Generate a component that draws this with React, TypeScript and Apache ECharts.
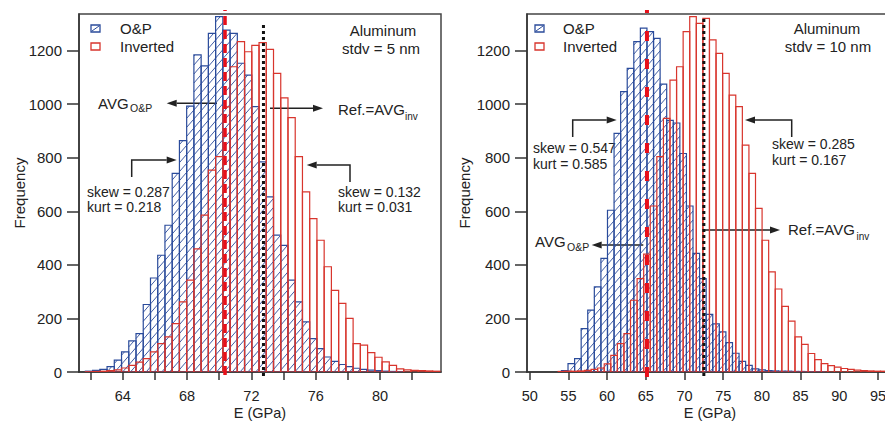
import React, { useEffect, useRef } from "react";
import * as echarts from "echarts";

const FONT = '"Liberation Sans", Arial, Helvetica, sans-serif';
const BLUE = "#2a4b9b";
const RED = "#d8352d";
const INK = "#222222";

// ---------- Panel (a): Aluminum, stdv = 5 nm ----------
const leftFirstBinCenter = 61.9; // GPa
const leftBinWidth = 0.45; // GPa
const leftOP = [
  3, 6, 10, 20, 44, 75, 116, 143, 252, 351, 436, 548, 742, 864, 993, 1184, 1143, 1265, 1327, 1277,
  1265, 1153, 1109, 991, 785, 654, 511, 473, 343, 262, 187, 125, 87, 56, 40, 28, 20, 14, 10, 7,
  5, 3, 2, 1,
];
const leftInverted = [
  1, 2, 3, 5, 8, 15, 25, 37, 50, 75, 106, 131, 181, 262, 343, 460, 586, 754, 804, 990,
  1140, 1234, 1196, 1220, 1230, 1205, 1115, 1024, 950, 804, 673, 573, 492, 393, 305, 256, 200, 106, 100, 72,
  55, 38, 25, 12, 8, 6, 5, 4, 3,
];
const leftAvgOP = 70.36;
const leftRefAvgInv = 72.75;
const leftXTicks = [62, 64, 66, 68, 70, 72, 74, 76, 78, 80, 82];
const leftXLabels = [64, 68, 72, 76, 80];
const leftSkewOP = "skew = 0.287";
const leftKurtOP = "kurt = 0.218";
const leftSkewInv = "skew = 0.132";
const leftKurtInv = "kurt = 0.031";

// ---------- Panel (b): Aluminum, stdv = 10 nm ----------
const rightBinWidth = 0.85; // GPa
const rightOPFirstCenter = 54.525;
const rightOP = [
  5, 31, 50, 162, 231, 318, 424, 604, 891, 1047, 1134, 1234, 1284, 1271, 1246, 1075, 940, 930, 816, 620,
  443, 349, 215, 180, 150, 110, 70, 40, 25, 12, 8, 5, 4, 3, 3, 2, 2, 1, 1, 1,
];
const rightInvFirstCenter = 54.1;
const rightInverted = [
  2, 3, 3, 4, 6, 10, 15, 30, 62, 106, 143, 268, 349, 440, 620, 804, 947, 1090, 1140, 1271,
  1327, 1302, 1321, 1240, 1190, 1115, 1034, 991, 847, 742, 611, 492, 374, 310, 245, 190, 131, 103, 69, 46,
  31, 24, 18, 13, 10, 7, 5, 4, 3, 3, 2,
];
const rightAvgOP = 65.15;
const rightRefAvgInv = 72.5;
const rightXTicks = [50, 55, 60, 65, 70, 75, 80, 85, 90, 95];
const rightSkewOP = "skew = 0.547";
const rightKurtOP = "kurt = 0.585";
const rightSkewInv = "skew = 0.285";
const rightKurtInv = "kurt = 0.167";

const yTicks = [0, 200, 400, 600, 800, 1000, 1200];

const toData = (first: number, w: number, vals: number[]) =>
  vals.map((v, i) => [Math.round((first + i * w) * 1000) / 1000, v]);

function histRenderer(binWidth: number, color: string, hatched: boolean) {
  return (params: any, api: any) => {
    const c = api.value(0) as number;
    const v = api.value(1) as number;
    const pBL = api.coord([c - binWidth / 2, 0]);
    const pTR = api.coord([c + binWidth / 2, v]);
    const x0 = pBL[0];
    const x1 = pTR[0];
    const yb = pBL[1];
    const yt = pTR[1];
    const children: any[] = [];
    if (hatched && yb - yt > 2) {
      const s = 1.15;
      const sp = 9;
      const kMin = Math.ceil((yt + s * x0) / sp);
      const kMax = Math.floor((yb + s * x1) / sp);
      for (let k = kMin; k <= kMax; k++) {
        const C = k * sp;
        let xa = x0;
        let ya = C - s * x0;
        let xb = x1;
        let yb2 = C - s * x1;
        if (ya > yb) {
          ya = yb;
          xa = (C - yb) / s;
        }
        if (yb2 < yt) {
          yb2 = yt;
          xb = (C - yt) / s;
        }
        if (xb - xa < 0.3) continue;
        children.push({
          type: "line",
          shape: { x1: xa, y1: ya, x2: xb, y2: yb2 },
          style: { stroke: color, lineWidth: 0.9 },
        });
      }
    }
    children.push({
      type: "rect",
      shape: { x: x0, y: yt, width: x1 - x0, height: yb - yt },
      style: { fill: "none", stroke: color, lineWidth: 1.2 },
    });
    return { type: "group", children };
  };
}

function vLineRenderer(color: string, width: number, dash: number[], topPad: number, botPad: number) {
  return (params: any, api: any) => {
    const x = api.coord([api.value(0), 0])[0];
    const cs = params.coordSys;
    return {
      type: "line",
      shape: { x1: x, y1: cs.y + cs.height + botPad, x2: x, y2: cs.y + topPad },
      style: { stroke: color, lineWidth: width, lineDash: dash },
    };
  };
}

const txt = (x: number, y: number, text: string, size = 15, align = "left") => ({
  type: "text",
  x,
  y,
  silent: true,
  style: {
    text,
    fontSize: size,
    fontFamily: FONT,
    fill: INK,
    textAlign: align,
    align,
    textVerticalAlign: "middle",
    verticalAlign: "middle",
  },
});

function hArrow(xFrom: number, y: number, xTip: number) {
  const dir = Math.sign(xTip - xFrom);
  const base = xTip - dir * 10;
  return [
    { type: "line", silent: true, shape: { x1: xFrom, y1: y, x2: base, y2: y }, style: { stroke: INK, lineWidth: 1.5 } },
    {
      type: "polygon",
      silent: true,
      shape: { points: [[xTip, y], [base, y - 3.5], [base, y + 3.5]] },
      style: { fill: INK },
    },
  ];
}

function bracketArrow(xv: number, yBottom: number, yTop: number, xTip: number) {
  const dir = Math.sign(xTip - xv);
  const base = xTip - dir * 10;
  return [
    {
      type: "polyline",
      silent: true,
      shape: { points: [[xv, yBottom], [xv, yTop], [base, yTop]] },
      style: { stroke: INK, lineWidth: 1.5, fill: "none" },
    },
    {
      type: "polygon",
      silent: true,
      shape: { points: [[xTip, yTop], [base, yTop - 3.5], [base, yTop + 3.5]] },
      style: { fill: INK },
    },
  ];
}

function legend(xIcon: number, xText: number) {
  return [
    { type: "rect", silent: true, shape: { x: xIcon, y: 25, width: 9, height: 7 }, style: { fill: "none", stroke: BLUE, lineWidth: 1.3 } },
    { type: "line", silent: true, shape: { x1: xIcon + 1, y1: 31, x2: xIcon + 8, y2: 26 }, style: { stroke: BLUE, lineWidth: 1 } },
    txt(xText, 28, "O&P", 15),
    { type: "rect", silent: true, shape: { x: xIcon, y: 43, width: 9, height: 7 }, style: { fill: "none", stroke: RED, lineWidth: 1.3 } },
    txt(xText, 46, "Inverted", 15),
  ];
}

const plainNumber = (v: number) => String(v);

function valueXAxis(gridIndex: number, min: number, max: number, ticks: number[], labels: number[]) {
  return {
    type: "value",
    gridIndex,
    min,
    max,
    name: "E (GPa)",
    nameLocation: "middle",
    nameGap: 33,
    nameMoveOverlap: false,
    nameTextStyle: { fontSize: 14.5, color: INK, fontFamily: FONT },
    axisLine: { show: true, onZero: false, lineStyle: { color: "#333", width: 1.5 } },
    axisTick: { show: true, inside: false, length: 8, customValues: ticks, lineStyle: { color: "#333", width: 1.5 } },
    axisLabel: { customValues: labels, margin: 16, fontSize: 14.5, color: INK, fontFamily: FONT, formatter: plainNumber },
    splitLine: { show: false },
  };
}

function valueYAxis(gridIndex: number, nameGap: number) {
  return {
    type: "value",
    gridIndex,
    min: 0,
    max: 1337,
    name: "Frequency",
    nameLocation: "middle",
    nameRotate: 90,
    nameGap,
    nameMoveOverlap: false,
    nameTextStyle: { fontSize: 15, color: INK, fontFamily: FONT },
    axisLine: { show: true, onZero: false, lineStyle: { color: "#333", width: 1.5 } },
    axisTick: { show: true, inside: false, length: 12, customValues: yTicks, lineStyle: { color: "#333", width: 1.5 } },
    axisLabel: { customValues: yTicks, margin: 17, fontSize: 15, color: INK, fontFamily: FONT, formatter: plainNumber },
    splitLine: { show: false },
  };
}

export default function App() {
  const ref = useRef<HTMLDivElement>(null);
  useEffect(() => {
    if (!ref.current) return;
    const chart = echarts.init(ref.current, undefined, { renderer: "svg" });
    const option: any = {
      animation: false,
      backgroundColor: "#ffffff",
      textStyle: { fontFamily: FONT },
      grid: [
        {
          left: 79, top: 14, width: 362, height: 358, show: true, borderColor: "#444", borderWidth: 1.5,
          backgroundColor: "transparent", containLabel: false, outerBoundsMode: "none",
        },
        {
          left: 527, top: 14, width: 366, height: 358, show: true, borderColor: "#444", borderWidth: 1.5,
          backgroundColor: "transparent", containLabel: false, outerBoundsMode: "none",
        },
      ],
      xAxis: [
        valueXAxis(0, 61.28, 83.79, leftXTicks, leftXLabels),
        valueXAxis(1, 49.65, 96.94, rightXTicks, rightXTicks),
      ],
      yAxis: [valueYAxis(0, 52), valueYAxis(1, 55)],
      series: [
        {
          type: "custom", name: "O&P", xAxisIndex: 0, yAxisIndex: 0, clip: true, silent: true, z: 2,
          data: toData(leftFirstBinCenter, leftBinWidth, leftOP),
          renderItem: histRenderer(leftBinWidth, BLUE, true),
        },
        {
          type: "custom", name: "Inverted", xAxisIndex: 0, yAxisIndex: 0, clip: true, silent: true, z: 3,
          data: toData(leftFirstBinCenter, leftBinWidth, leftInverted),
          renderItem: histRenderer(leftBinWidth, RED, false),
        },
        {
          type: "custom", xAxisIndex: 0, yAxisIndex: 0, clip: false, silent: true, z: 5,
          data: [[leftAvgOP, 0]],
          renderItem: vLineRenderer("#e8101a", 3.5, [9, 5], -4, 3),
        },
        {
          type: "custom", xAxisIndex: 0, yAxisIndex: 0, clip: false, silent: true, z: 5,
          data: [[leftRefAvgInv, 0]],
          renderItem: vLineRenderer("#111111", 3, [3, 3], 8, 4),
        },
        {
          type: "custom", name: "O&P", xAxisIndex: 1, yAxisIndex: 1, clip: true, silent: true, z: 2,
          data: toData(rightOPFirstCenter, rightBinWidth, rightOP),
          renderItem: histRenderer(rightBinWidth, BLUE, true),
        },
        {
          type: "custom", name: "Inverted", xAxisIndex: 1, yAxisIndex: 1, clip: true, silent: true, z: 3,
          data: toData(rightInvFirstCenter, rightBinWidth, rightInverted),
          renderItem: histRenderer(rightBinWidth, RED, false),
        },
        {
          type: "custom", xAxisIndex: 1, yAxisIndex: 1, clip: false, silent: true, z: 5,
          data: [[rightAvgOP, 0]],
          renderItem: vLineRenderer("#e8101a", 4, [10, 18], -4, 5),
        },
        {
          type: "custom", xAxisIndex: 1, yAxisIndex: 1, clip: false, silent: true, z: 5,
          data: [[rightRefAvgInv, 0]],
          renderItem: vLineRenderer("#111111", 3, [3, 3], 4, 4),
        },
      ],
      graphic: [
        // panel (a)
        ...legend(91, 120),
        txt(383, 30, "Aluminum", 15, "center"),
        txt(381, 48, "stdv = 5 nm", 15, "center"),
        txt(98, 103.5, "AVG", 15),
        txt(130, 108, "O&P", 10.5),
        ...hArrow(217, 103.3, 166.7),
        txt(338, 109.5, "Ref.=AVG", 15),
        txt(405, 116.5, "inv", 10),
        ...hArrow(270, 108.3, 323),
        ...bracketArrow(131.7, 177, 160, 176.7),
        txt(87, 191.5, leftSkewOP, 14),
        txt(87, 207, leftKurtOP, 14),
        ...bracketArrow(350, 182, 165, 306.7),
        txt(338, 191.5, leftSkewInv, 14),
        txt(338, 207, leftKurtInv, 14),
        // panel (b)
        ...legend(535, 563),
        txt(827, 28, "Aluminum", 15, "center"),
        txt(828, 46, "stdv = 10 nm", 15, "center"),
        ...bracketArrow(572.7, 137, 120, 616.7),
        txt(533, 148, rightSkewOP, 14),
        txt(533, 164, rightKurtOP, 14),
        ...bracketArrow(791.7, 137, 120, 745),
        txt(772, 144, rightSkewInv, 14),
        txt(772, 160, rightKurtInv, 14),
        txt(535, 241.5, "AVG", 15),
        txt(567, 246.5, "O&P", 10.5),
        ...hArrow(643.3, 245, 591.7),
        txt(788, 229, "Ref.=AVG", 15),
        txt(856.5, 236, "inv", 10),
        ...hArrow(705, 230, 780),
      ],
    };
    chart.setOption(option);
    return () => chart.dispose();
  }, []);
  return (
    <div
      ref={ref}
      style={{ position: "fixed", left: 0, top: 0, width: 885, height: 421, background: "#fff" }}
    />
  );
}
